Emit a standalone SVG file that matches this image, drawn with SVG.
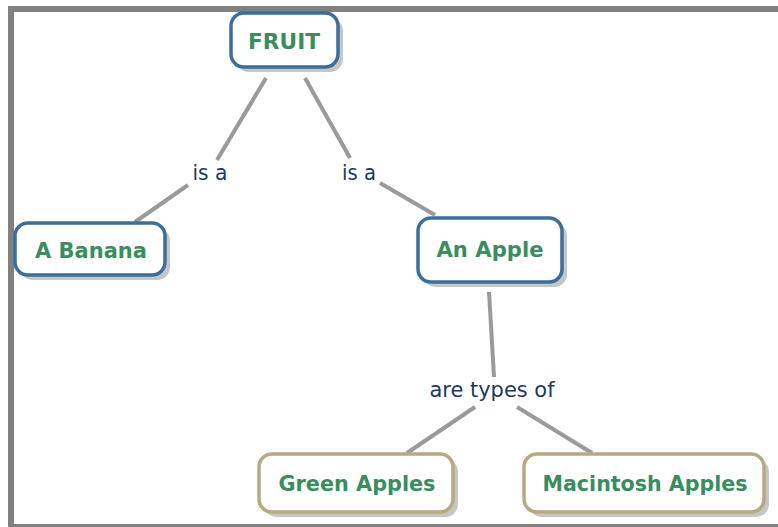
<svg xmlns="http://www.w3.org/2000/svg" width="778" height="527" viewBox="0 0 778 527">
<style>
.frame{fill:none;stroke:#808080;stroke-width:6}
.shadow{fill:#c6c6c6}
.blue{fill:#fff;stroke:#3b6f9b;stroke-width:3.5}
.tan{fill:#fff;stroke:#b5aa80;stroke-width:3.5}
.nt{font-family:"DejaVu Sans",Verdana,sans-serif;font-weight:bold;font-size:22px;fill:#3a8d5e;text-anchor:middle}
.lt{font-family:"DejaVu Sans",Verdana,sans-serif;font-size:21px;fill:#1c3a5c;text-anchor:middle}
.c{stroke:#9a9a9a;stroke-width:4;fill:none;stroke-linecap:butt}
</style>
<rect width="778" height="527" fill="#fff"/>
<g id="frame">
<polyline class="frame" points="778,9 11,9 11,527"/>
<line x1="8" y1="525.5" x2="778" y2="525.5" stroke="#808080" stroke-width="3"/>
</g>
<g id="connectors">
<line class="c" x1="266" y1="78" x2="217" y2="160"/>
<line class="c" x1="188" y1="185" x2="135" y2="222"/>
<line class="c" x1="305" y1="78" x2="350" y2="158"/>
<line class="c" x1="380" y1="183" x2="435" y2="215"/>
<line class="c" x1="489" y1="292" x2="494" y2="377"/>
<line class="c" x1="475" y1="407" x2="407" y2="453"/>
<line class="c" x1="517" y1="407" x2="592" y2="453"/>
</g>
<g id="fruit">
<rect class="shadow" x="236" y="18" width="107" height="54" rx="13"/>
<rect class="blue" x="231" y="13" width="107" height="54" rx="13"/>
<text class="nt" x="284" y="49" textLength="72" lengthAdjust="spacingAndGlyphs">FRUIT</text>
</g>
<g id="banana">
<rect class="shadow" x="20" y="228" width="150" height="52" rx="13"/>
<rect class="blue" x="15" y="223" width="150" height="52" rx="13"/>
<text class="nt" x="91" y="258" textLength="112" lengthAdjust="spacingAndGlyphs">A Banana</text>
</g>
<g id="apple">
<rect class="shadow" x="423" y="223" width="144" height="64" rx="13"/>
<rect class="blue" x="418" y="218" width="144" height="64" rx="13"/>
<text class="nt" x="490" y="257" textLength="107" lengthAdjust="spacingAndGlyphs">An Apple</text>
</g>
<g id="green">
<rect class="shadow" x="264" y="459" width="194" height="58" rx="13"/>
<rect class="tan" x="259" y="454" width="194" height="58" rx="13"/>
<text class="nt" x="357" y="491" textLength="157" lengthAdjust="spacingAndGlyphs">Green Apples</text>
</g>
<g id="macintosh">
<rect class="shadow" x="529" y="459" width="240" height="58" rx="13"/>
<rect class="tan" x="524" y="454" width="240" height="58" rx="13"/>
<text class="nt" x="645" y="491" textLength="205" lengthAdjust="spacingAndGlyphs">Macintosh Apples</text>
</g>
<g id="label-isa-1"><text class="lt" x="210" y="180" textLength="35" lengthAdjust="spacingAndGlyphs">is a</text></g>
<g id="label-isa-2"><text class="lt" x="359" y="180" textLength="34" lengthAdjust="spacingAndGlyphs">is a</text></g>
<g id="label-types"><text class="lt" x="492" y="397" textLength="125" lengthAdjust="spacingAndGlyphs">are types of</text></g>
</svg>
